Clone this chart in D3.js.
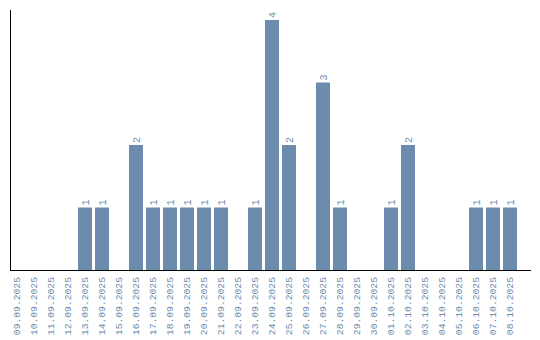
<!DOCTYPE html>
<html>
<head>
<meta charset="utf-8">
<script src="https://cdn.jsdelivr.net/npm/d3@7"></script>
<style>
  body { margin: 0; background: #fff; }
  text { font-family: "Liberation Mono", monospace; }
</style>
</head>
<body>
<script>
// dates shown on the x axis
var days = ["09.09.2025", "10.09.2025", "11.09.2025", "12.09.2025", "13.09.2025",
    "14.09.2025", "15.09.2025", "16.09.2025", "17.09.2025", "18.09.2025",
    "19.09.2025", "20.09.2025", "21.09.2025", "22.09.2025", "23.09.2025",
    "24.09.2025", "25.09.2025", "26.09.2025", "27.09.2025", "28.09.2025",
    "29.09.2025", "30.09.2025", "01.10.2025", "02.10.2025", "03.10.2025",
    "04.10.2025", "05.10.2025", "06.10.2025", "07.10.2025", "08.10.2025"];
// count per day
var counts = [0, 0, 0, 0, 1, 1, 0, 2, 1, 1, 1, 1, 1, 0, 1, 4, 2, 0, 3, 1, 0, 0, 1, 2, 0, 0, 0, 1, 1, 1];

var barColor = "#6b8cad";
var textColor = "#6b8cad";

var data = days.map(function(day, i) { return {day: day, value: counts[i]}; });

var svg = d3.select("body").append("svg")
    .attr("width", 540)
    .attr("height", 340);

var x = d3.scaleBand()
    .domain(days)
    .range([10, 517])
    .paddingInner(3 / 17)
    .paddingOuter(0);

var y = d3.scaleLinear()
    .domain([0, 4])
    .range([270, 20]);

// bars
svg.selectAll(".bar")
    .data(data)
    .enter().append("rect")
    .attr("class", "bar")
    .attr("x", function(d) { return x(d.day); })
    .attr("width", x.bandwidth())
    .attr("y", function(d) { return y(d.value); })
    .attr("height", function(d) { return y(0) - y(d.value); })
    .attr("fill", barColor);

// value labels, rotated, only for non-zero days
svg.selectAll(".val")
    .data(data.filter(function(d) { return d.value > 0; }))
    .enter().append("text")
    .attr("class", "val")
    .attr("transform", function(d) {
        var cx = x(d.day) + x.bandwidth() / 2;
        return "translate(" + cx + "," + (y(d.value) - 2) + ") rotate(-90)";
    })
    .attr("dy", "0.35em")
    .attr("font-size", "10px")
    .attr("fill", textColor)
    .text(function(d) { return d.value; });

// x axis
var xAxis = svg.append("g")
    .attr("transform", "translate(0,270)")
    .call(d3.axisBottom(x).tickSize(0).tickPadding(0));
xAxis.select(".domain").remove();
xAxis.selectAll("text")
    .attr("transform", "rotate(-90)")
    .attr("x", -7)
    .attr("y", 0)
    .attr("dy", "0.35em")
    .attr("text-anchor", "end")
    .attr("font-family", "Liberation Mono, monospace")
    .attr("font-size", "9.7px")
    .attr("fill", textColor);

// axis lines
svg.append("line")
    .attr("x1", 10).attr("x2", 531)
    .attr("y1", 270.5).attr("y2", 270.5)
    .attr("stroke", "#000");
svg.append("line")
    .attr("x1", 10.5).attr("x2", 10.5)
    .attr("y1", 10).attr("y2", 270)
    .attr("stroke", "#000");
</script>
</body>
</html>
